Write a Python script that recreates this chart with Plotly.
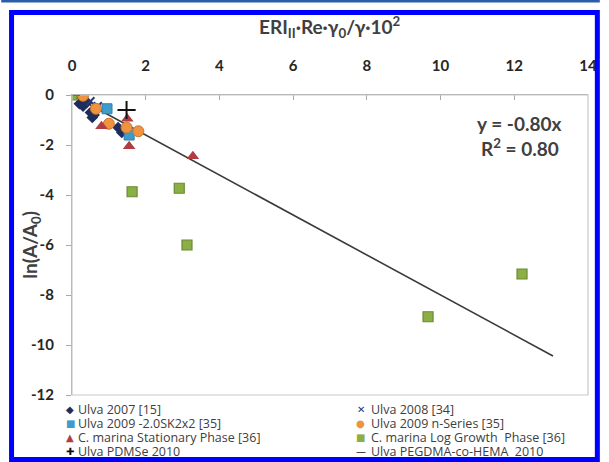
import plotly.graph_objects as go

# ---- data ----
ulva2007_x = [0.2, 0.3, 0.4, 0.5, 0.55, 0.6, 1.25, 1.35]
ulva2007_y = [-0.35, -0.45, -0.3, -0.7, -0.9, -0.8, -1.3, -1.5]
ulva2008_x = [0.5, 0.7]
ulva2008_y = [-0.25, -0.45]
ulva2009sk_x = [0.95, 1.55]
ulva2009sk_y = [-0.55, -1.6]
ulva2009n_x = [0.3, 0.65, 1.0, 1.48, 1.8]
ulva2009n_y = [-0.03, -0.55, -1.15, -1.3, -1.45]
cm_stat_x = [0.8, 1.5, 1.55, 3.28]
cm_stat_y = [-1.25, -0.95, -2.05, -2.45]
cm_log_x = [0.0, 1.63, 2.91, 3.12, 9.66, 12.21]
cm_log_y = [0.0, -3.87, -3.73, -6.0, -8.87, -7.16]
pdmse_x = [1.48]
pdmse_y = [-0.6]
pegdma_x = [0.05]
pegdma_y = [0.0]
trend_x = [0.0, 13.05]
trend_y = [0.0, -10.44]

series_names = [
    "Ulva 2007 [15]", "Ulva 2008 [34]",
    "Ulva 2009 -2.0SK2x2 [35]", "Ulva 2009 n-Series [35]",
    "C. marina Stationary Phase [36]", "C. marina Log Growth  Phase [36]",
    "Ulva PDMSe 2010", "Ulva PEGDMA-co-HEMA  2010",
]
x_ticks = [0, 2, 4, 6, 8, 10, 12, 14]
y_ticks = [0, -2, -4, -6, -8, -10, -12]

FONT = "Lato"
LEG_FONT = "Open Sans"
TXT = "#404040"

W, H = 609, 462
L, R, T, B = 72, 12, 95, 67
PW, PH = W - L - R, H - T - B


def px(x):
    return (x - L) / PW


def py(y):
    return (H - B - y) / PH


fig = go.Figure()

fig.add_trace(go.Scatter(x=trend_x, y=trend_y, mode="lines",
                         line=dict(color="#3a3a3a", width=1.6),
                         showlegend=False, hoverinfo="skip"))

styles = [
    (ulva2007_x, ulva2007_y, dict(symbol="diamond", size=9, color="#1f2d5c",
                                  line=dict(width=0))),
    (ulva2008_x, ulva2008_y, dict(symbol="x-thin", size=8, color="#2b3a6b",
                                  line=dict(width=2, color="#2b3a6b"))),
    (ulva2009sk_x, ulva2009sk_y, dict(symbol="square", size=10, color="#3e9ccb",
                                      line=dict(width=1, color="#2f7fa8"))),
    (ulva2009n_x, ulva2009n_y, dict(symbol="circle", size=11, color="#f0923e",
                                    line=dict(width=1, color="#c87a30"))),
    (cm_stat_x, cm_stat_y, dict(symbol="triangle-up", size=11, color="#b23c44",
                                line=dict(width=0))),
    (cm_log_x, cm_log_y, dict(symbol="square", size=10, color="#8caf45",
                              line=dict(width=1.2, color="#6a8a33"))),
    (pdmse_x, pdmse_y, dict(symbol="cross-thin", size=13, color="#111111",
                            line=dict(width=2, color="#111111"))),
    (pegdma_x, pegdma_y, dict(symbol="line-ew", size=9, color="#111111",
                              line=dict(width=2, color="#111111"))),
]
for (xs, ys, mk), name in zip(styles, series_names):
    fig.add_trace(go.Scatter(x=xs, y=ys, mode="markers", name=name,
                             marker=mk, showlegend=False))

# ---- custom two-column legend ----
glyphs = [("◆", "#1f2d5c"), ("✕", "#2b3a6b"), ("■", "#3e9ccb"), ("●", "#f0923e"),
          ("▲", "#b23c44"), ("■", "#8caf45"), ("✚", "#111111"), ("—", "#111111")]
row_y = [409, 423, 437, 451]
col_mark = [70, 366]
col_text = [76, 374]
annotations = []
for i, (name, (g, c)) in enumerate(zip(series_names, glyphs)):
    r, col = i // 2, i % 2
    annotations.append(dict(x=px(col_mark[col]), y=py(row_y[r]), xref="paper", yref="paper",
                            text=g, showarrow=False, xanchor="center", yanchor="middle",
                            font=dict(family="DejaVu Sans", size=10, color=c)))
    annotations.append(dict(x=px(col_text[col]), y=py(row_y[r]), xref="paper", yref="paper",
                            text=name, showarrow=False, xanchor="left", yanchor="middle",
                            font=dict(family=LEG_FONT, size=12.5, color=TXT)))

# axis titles and equation
annotations.append(dict(x=0.5, y=py(27), xref="paper", yref="paper",
                        text="<b>ERI<sub>II</sub>·Re·γ<sub>0</sub>/γ·10<sup>2</sup></b>",
                        showarrow=False, xanchor="center", yanchor="middle",
                        font=dict(family=FONT, size=19, color=TXT)))
annotations.append(dict(x=px(30), y=0.5, xref="paper", yref="paper",
                        text="<b>ln(A/A<sub>0</sub>)</b>", textangle=-90,
                        showarrow=False, xanchor="center", yanchor="middle",
                        font=dict(family=FONT, size=19, color=TXT)))
annotations.append(dict(x=px(572), y=py(123), xref="paper", yref="paper",
                        text="<b>y = -0.80x</b>", showarrow=False,
                        xanchor="right", yanchor="middle",
                        font=dict(family=FONT, size=19, color=TXT)))
annotations.append(dict(x=px(570), y=py(147), xref="paper", yref="paper",
                        text="<b>R<sup>2</sup> = 0.80</b>", showarrow=False,
                        xanchor="right", yanchor="middle",
                        font=dict(family=FONT, size=19, color=TXT)))

shapes = [
    # plot area border
    dict(type="rect", xref="paper", yref="paper", x0=0, x1=1, y0=0, y1=1,
         line=dict(color="#c8c8c8", width=1.2)),
    # top dark blue stripe
    dict(type="rect", xref="paper", yref="paper", x0=px(0), x1=px(W), y0=py(0), y1=py(2.5),
         line=dict(width=0), fillcolor="#2a5ea8"),
    # blue frame
    dict(type="rect", xref="paper", yref="paper", x0=px(10.5), x1=px(606.5),
         y0=py(459.5), y1=py(12.5), line=dict(color="#0000ff", width=5)),
]

fig.update_layout(
    width=W, height=H,
    margin=dict(l=L, r=R, t=T, b=B),
    paper_bgcolor="white", plot_bgcolor="white",
    font=dict(family=FONT, color=TXT),
    annotations=annotations, shapes=shapes,
    showlegend=False,
    xaxis=dict(range=[0, 14], side="top", tickvals=x_ticks,
               ticktext=[str(v) for v in x_ticks],
               showgrid=False, zeroline=False, showline=True,
               linecolor="#a8a8a8", linewidth=1.2,
               ticks="inside", ticklen=5, tickcolor="#a8a8a8",
               ticklabelstandoff=17,
               tickfont=dict(family=FONT, size=15, color="#262626", weight="bold")),
    yaxis=dict(range=[-12, 0], tickvals=y_ticks,
               ticktext=[str(v) for v in y_ticks],
               showgrid=False, zeroline=False, showline=True,
               linecolor="#a8a8a8", linewidth=1.2,
               ticks="outside", ticklen=5, tickcolor="#a8a8a8",
               ticklabelstandoff=9,
               tickfont=dict(family=FONT, size=15, color="#262626", weight="bold")),
)

fig.write_html("out.html", config={"displayModeBar": False},
               post_script="document.body.style.margin='0px';document.body.style.overflow='hidden';")
